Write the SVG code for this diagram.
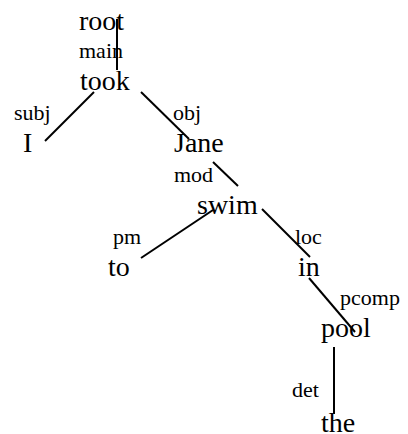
<svg xmlns="http://www.w3.org/2000/svg" width="408" height="434" viewBox="0 0 408 434">
  <style>
    .word { font-family: "Liberation Serif", "Times New Roman", serif; font-size: 28px; fill: #000; }
    .rel { font-family: "Liberation Serif", "Times New Roman", serif; font-size: 22px; fill: #000; }
    .edge { stroke: #000; stroke-width: 2; fill: none; }
  </style>
  <rect width="408" height="434" fill="#fff"/>

  <!-- dependency arcs -->
  <g id="connectors">
    <line class="edge" x1="117" y1="19" x2="117" y2="70"/>
    <line class="edge" x1="94" y1="92" x2="45" y2="141"/>
    <line class="edge" x1="141" y1="92" x2="189" y2="139"/>
    <line class="edge" x1="213" y1="162" x2="238" y2="186"/>
    <line class="edge" x1="213" y1="210" x2="141" y2="258"/>
    <line class="edge" x1="262" y1="209" x2="310" y2="257"/>
    <line class="edge" x1="309" y1="278" x2="355" y2="332"/>
    <line class="edge" x1="334" y1="347" x2="334" y2="414"/>
  </g>

  <!-- relation labels -->
  <g id="labels">
    <text class="rel" x="79" y="58">main</text>
    <text class="rel" x="14" y="120">subj</text>
    <text class="rel" x="173" y="120">obj</text>
    <text class="rel" x="174" y="182">mod</text>
    <text class="rel" x="113" y="244">pm</text>
    <text class="rel" x="295" y="244">loc</text>
    <text class="rel" x="340" y="305">pcomp</text>
    <text class="rel" x="292" y="397">det</text>
  </g>

  <!-- words -->
  <g id="node-root"><text class="word" x="79" y="30">root</text></g>
  <g id="node-took"><text class="word" x="80" y="90">took</text></g>
  <g id="node-I"><text class="word" x="23" y="152">I</text></g>
  <g id="node-Jane"><text class="word" x="174" y="152">Jane</text></g>
  <g id="node-swim"><text class="word" x="197" y="214">swim</text></g>
  <g id="node-to"><text class="word" x="108" y="276">to</text></g>
  <g id="node-in"><text class="word" x="298" y="276">in</text></g>
  <g id="node-pool"><text class="word" x="321" y="337">pool</text></g>
  <g id="node-the"><text class="word" x="321" y="432">the</text></g>
</svg>
